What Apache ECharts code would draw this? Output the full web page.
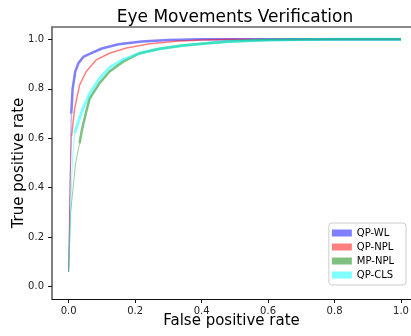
<!DOCTYPE html>
<html>
<head>
<meta charset="utf-8">
<script src="https://cdn.jsdelivr.net/npm/echarts@6/dist/echarts.min.js"></script>
<style>
html, body { margin: 0; padding: 0; background: #fff; }
#chart { width: 411px; height: 336px; }
</style>
</head>
<body>
<div id="chart"></div>
<script>
var tickValues = [0, 0.2, 0.4, 0.6, 0.8, 1.0];

var wlFpr = [0, 0.004, 0.008, 0.012, 0.02, 0.03, 0.045, 0.07, 0.1, 0.15, 0.22, 0.3, 0.4, 1];
var wlTpr = [0.06, 0.4, 0.7, 0.8, 0.87, 0.905, 0.93, 0.945, 0.963, 0.98, 0.991, 0.997, 1.0, 1.0];

var nplFpr = [0, 0.005, 0.009, 0.018, 0.033, 0.053, 0.083, 0.123, 0.174, 0.244, 0.324, 0.4, 0.5, 1];
var nplTpr = [0.06, 0.45, 0.61, 0.72, 0.815, 0.87, 0.917, 0.944, 0.965, 0.982, 0.992, 0.997, 1.0, 1.0];

var mpFpr = [0, 0.006, 0.021, 0.033, 0.04, 0.053, 0.063, 0.093, 0.123, 0.164, 0.214, 0.274, 0.344, 0.425, 0.485, 0.6, 0.8, 1];
var mpTpr = [0.06, 0.3, 0.5, 0.58, 0.634, 0.708, 0.76, 0.823, 0.87, 0.91, 0.944, 0.962, 0.975, 0.985, 0.991, 0.997, 1.0, 1.0];

var clsFpr = [0, 0.006, 0.011, 0.018, 0.03, 0.043, 0.063, 0.093, 0.123, 0.164, 0.214, 0.274, 0.344, 0.425, 0.485, 0.6, 0.8, 1];
var clsTpr = [0.06, 0.3, 0.5, 0.62, 0.67, 0.72, 0.78, 0.842, 0.886, 0.918, 0.944, 0.962, 0.975, 0.985, 0.991, 0.997, 1.0, 1.0];

function pairs(xs, ys) {
	var out = [];
	for (var i = 0; i < xs.length; i++) out.push([xs[i], ys[i]]);
	return out;
}

// the bottom of each curve is a very thin band, so draw it as a faint hairline
function curve(name, xs, ys, color, width, splitAt) {
	var pts = pairs(xs, ys);
	return [{
		name: name,
		type: 'line',
		showSymbol: false,
		data: pts.slice(splitAt),
		itemStyle: { color: color },
		lineStyle: { color: color, width: width },
		z: 3
	}, {
		name: name,
		type: 'line',
		showSymbol: false,
		data: pts.slice(0, splitAt + 1),
		itemStyle: { color: color },
		lineStyle: { color: color, width: 0.8 },
		z: 2
	}];
}

var myChart = echarts.init(document.getElementById('chart'));
var font = 'DejaVu Sans';
var option = {
	animation: false,
	title: {
		text: 'Eye Movements Verification',
		left: 230,
		top: 4,
		textAlign: 'center',
		textStyle: { fontFamily: font, fontSize: 17, fontWeight: 'normal', color: '#000' }
	},
	legend: {
		orient: 'vertical',
		right: 5,
		top: 223,
		icon: 'rect',
		itemWidth: 20,
		itemHeight: 7,
		itemGap: 2,
		padding: [4, 12, 4, 3],
		borderColor: '#ccc',
		borderWidth: 1,
		borderRadius: 3,
		backgroundColor: 'rgba(255,255,255,0.8)',
		textStyle: { fontFamily: font, fontSize: 10, color: '#000', lineHeight: 12 },
		data: ['QP-WL', 'QP-NPL', 'MP-NPL', 'QP-CLS']
	},
	grid: { left: 52, right: 0, top: 27, bottom: 37, outerBoundsMode: 'none' },
	xAxis: [{
		type: 'value',
		min: -0.05,
		max: 1.03,
		name: 'False positive rate',
		nameLocation: 'middle',
		nameGap: 15,
		nameMoveOverlap: false,
		nameTextStyle: { fontFamily: font, fontSize: 15, color: '#000' },
		axisLine: { onZero: false, lineStyle: { color: '#111', width: 1 } },
		axisTick: { customValues: tickValues, length: 4, lineStyle: { color: '#111' } },
		axisLabel: {
			customValues: tickValues,
			margin: 7,
			fontFamily: font, fontSize: 10, color: '#222',
			formatter: function (v) { return v.toFixed(1); }
		},
		splitLine: { show: false }
	}, {
		type: 'value',
		position: 'top',
		min: -0.05,
		max: 1.03,
		axisLine: { onZero: false, lineStyle: { color: '#666', width: 1.5 } },
		axisTick: { show: false },
		axisLabel: { show: false },
		splitLine: { show: false }
	}],
	yAxis: {
		type: 'value',
		min: -0.05,
		max: 1.05,
		name: 'True positive rate',
		nameLocation: 'middle',
		nameGap: 25,
		nameMoveOverlap: false,
		nameTextStyle: { fontFamily: font, fontSize: 15, color: '#000' },
		axisLine: { onZero: false, lineStyle: { color: '#555', width: 1.5 } },
		axisTick: { customValues: tickValues, length: 4, lineStyle: { color: '#111' } },
		axisLabel: {
			customValues: tickValues,
			margin: 8,
			fontFamily: font, fontSize: 10, color: '#222',
			formatter: function (v) { return v.toFixed(1); }
		},
		splitLine: { show: false }
	},
	series: [].concat(
		curve('QP-WL', wlFpr, wlTpr, 'rgba(0,0,255,0.5)', 2.5, 2),
		curve('QP-NPL', nplFpr, nplTpr, 'rgba(255,0,0,0.5)', 1.5, 2),
		curve('MP-NPL', mpFpr, mpTpr, 'rgba(0,128,0,0.5)', 2.5, 3),
		curve('QP-CLS', clsFpr, clsTpr, 'rgba(0,255,255,0.5)', 3, 3)
	)
};
myChart.setOption(option);
</script>
</body>
</html>
